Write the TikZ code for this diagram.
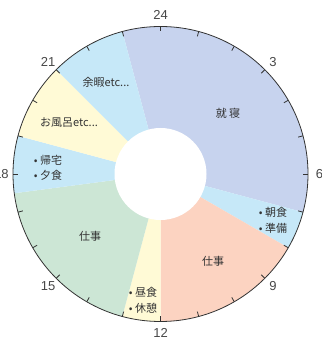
\documentclass[tikz,border=0pt]{standalone}
\usepackage{fontspec}
\usetikzlibrary{calc}
\newfontfamily\jp{Noto Sans CJK JP}
\newfontfamily\numf{Liberation Sans}
\definecolor{csleep}{HTML}{C7D3EE}
\definecolor{cblue}{HTML}{C6E8F8}
\definecolor{cyel}{HTML}{FFFAD6}
\definecolor{csalm}{HTML}{FCD3C1}
\definecolor{cgreen}{HTML}{CCE6D5}
\definecolor{cline}{HTML}{333333}
\definecolor{ctext}{HTML}{333333}
\tikzset{
  lbl/.style={font=\jp\fontsize{11}{15.5}\selectfont, text=ctext, inner sep=0pt, align=left},
  hourlbl/.style={font=\numf\fontsize{13}{13}\selectfont, text=cline!90, inner sep=0pt},
}
\newcommand{\Rout}{147.5}
\newcommand{\Rin}{46}
\newcommand{\piewedge}[3]{% color, h1, h2
  \fill[#1] (C) -- ++({90-15*#2}:\Rout) arc[start angle={90-15*#2}, end angle={90-15*#3}, radius=\Rout] -- cycle;}
\begin{document}
\begin{tikzpicture}[x=1pt,y=1pt]
\useasboundingbox (0,0) rectangle (321,342);
\coordinate (C) at (160.5,168);
\piewedge{csleep}{23}{31}
\piewedge{cblue}{7}{8}
\piewedge{csalm}{8}{12}
\piewedge{cyel}{12}{13}
\piewedge{cgreen}{13}{17.5}
\piewedge{cblue}{17.5}{19}
\piewedge{cyel}{19}{21}
\piewedge{cblue}{21}{23}
\fill[white] (C) circle[radius=\Rin];
\draw[cline, line width=0.8pt] (C) circle[radius=\Rout];
\foreach \h in {0,...,23}{
  \draw[cline, line width=0.8pt] ($(C)+({90-15*\h}:\Rout)$) -- ($(C)+({90-15*\h}:\Rout-5)$);
}
\foreach \h/\t in {0/24,3/3,6/6,9/9,12/12,15/15,18/18,21/21}{
  \node[hourlbl] (hl\h) at ($(C)+({90-15*\h}:159)$) {\t};
}
\node[lbl] (sleep) at (228,229) {就 寝};
\node[lbl] (yoka) at (106,260) {余暇etc...};
\node[lbl] (furo) at (69,219) {お風呂etc...};
\node[lbl] (kitaku) at (48,174) {• 帰宅\\• 夕食};
\node[lbl] (asa) at (273,121.5) {• 朝食\\• 準備};
\node[lbl] (workR) at (213,81) {仕事};
\node[lbl] (workL) at (90,106) {仕事};
\node[lbl] (hiru) at (143,41.5) {• 昼食\\• 休憩};
\end{tikzpicture}
\end{document}
